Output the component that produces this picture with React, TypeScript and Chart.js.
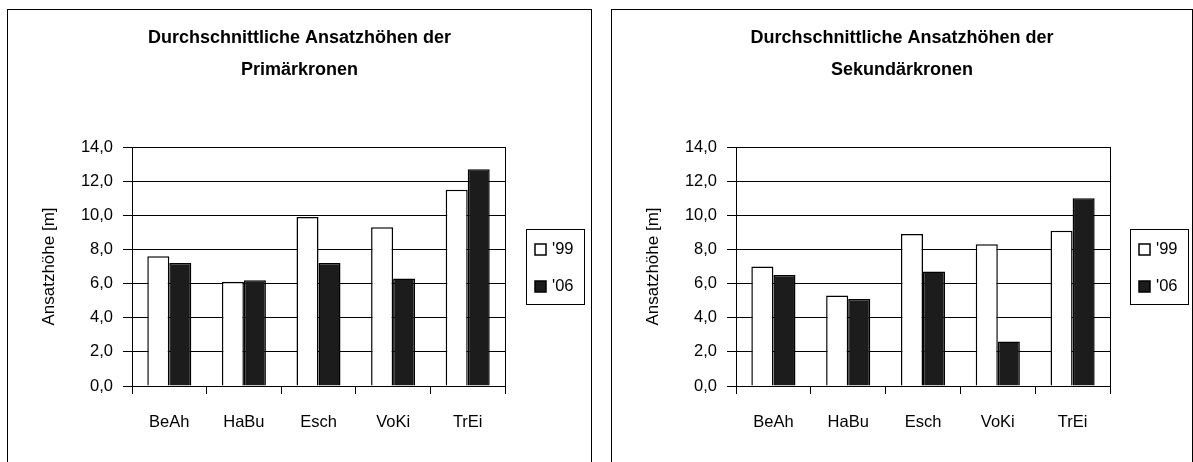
import React, { useEffect, useRef } from 'react';
import { Chart, registerables } from 'chart.js';

Chart.register(...registerables);

const FONT = "'Liberation Sans', Arial, Helvetica, sans-serif";

const categories = ['BeAh', 'HaBu', 'Esch', 'VoKi', 'TrEi'];
const seriesLabels = ["'99", "'06"];
const primary99 = [7.6, 6.1, 9.9, 9.3, 11.5];
const primary06 = [7.2, 6.2, 7.2, 6.3, 12.7];
const secondary99 = [7.0, 5.3, 8.9, 8.3, 9.1];
const secondary06 = [6.5, 5.1, 6.7, 2.6, 11.0];
const yMin = 0;
const yMax = 14;
const yStep = 2;
const titlePrimary = ['Durchschnittliche Ansatzhöhen der', 'Primärkronen'];
const titleSecondary = ['Durchschnittliche Ansatzhöhen der', 'Sekundärkronen'];
const yAxisTitle = 'Ansatzhöhe [m]';

const color99 = '#ffffff';
const color06 = '#1c1c1c';

const plotBorder = {
  id: 'plotBorder',
  beforeDatasetsDraw(chart: any) {
    const { ctx, chartArea } = chart;
    ctx.save();
    ctx.strokeStyle = '#000';
    ctx.lineWidth = 1;
    ctx.strokeRect(
      Math.round(chartArea.left) + 0.5,
      Math.round(chartArea.top) + 0.5,
      Math.round(chartArea.right - chartArea.left),
      Math.round(chartArea.bottom - chartArea.top)
    );
    ctx.restore();
  },
};

const boxLegend = {
  id: 'boxLegend',
  afterDraw(chart: any, _args: any, opts: any) {
    const { ctx, chartArea } = chart;
    const w = opts.width;
    const h = opts.height;
    const left = Math.round(chartArea.right + opts.gap);
    const top = Math.round((chartArea.top + chartArea.bottom) / 2 - h / 2);
    ctx.save();
    ctx.fillStyle = '#fff';
    ctx.fillRect(left, top, w, h);
    ctx.strokeStyle = '#000';
    ctx.lineWidth = 1;
    ctx.strokeRect(left + 0.5, top + 0.5, w, h);
    ctx.font = `${opts.fontSize}px ${FONT}`;
    ctx.textBaseline = 'middle';
    ctx.textAlign = 'left';
    chart.data.datasets.forEach((ds: any, i: number) => {
      const cy = top + opts.firstY + i * opts.rowGap;
      ctx.fillStyle = ds.backgroundColor;
      ctx.fillRect(left + 9, Math.round(cy - 5.5), 11, 11);
      ctx.strokeStyle = '#000';
      ctx.lineWidth = 1.5;
      ctx.strokeRect(left + 9, Math.round(cy - 5.5), 11, 11);
      ctx.fillStyle = '#000';
      ctx.fillText(ds.label, left + 26, cy);
    });
    ctx.restore();
  },
};

type PanelProps = {
  title: string[];
  values99: number[];
  values06: number[];
  left: number;
  width: number;
  padRight: number;
  legendGap: number;
};

function BarPanel({ title, values99, values06, left, width, padRight, legendGap }: PanelProps) {
  const ref = useRef<HTMLCanvasElement | null>(null);
  const canvasW = width - 2;
  const canvasH = 452;

  useEffect(() => {
    if (!ref.current) return;
    const chart = new Chart(ref.current, {
      type: 'bar',
      data: {
        labels: categories,
        datasets: [
          {
            label: seriesLabels[0],
            data: values99,
            backgroundColor: color99,
            borderColor: '#000',
            borderWidth: 1.5,
            categoryPercentage: 0.59,
            barPercentage: 1.0,
            yAxisID: 'y',
          },
          {
            label: seriesLabels[1],
            data: values06,
            backgroundColor: color06,
            borderColor: '#000',
            borderWidth: 1.5,
            categoryPercentage: 0.59,
            barPercentage: 1.0,
            yAxisID: 'y',
          },
        ],
      },
      options: {
        responsive: false,
        animation: false,
        devicePixelRatio: 1,
        layout: { padding: 0 },
        plugins: {
          legend: { display: false },
          tooltip: { enabled: false },
          title: {
            display: true,
            text: title,
            color: '#000',
            font: { family: FONT, size: 18, weight: 'bold', lineHeight: '32px' },
            padding: { top: 12, bottom: 61 },
          },
          boxLegend: { gap: legendGap, width: 58, height: 75, firstY: 20, rowGap: 37, fontSize: 16.5 },
        } as any,
        scales: {
          x: {
            grid: {
              display: true,
              drawOnChartArea: false,
              drawTicks: true,
              tickLength: 8,
              color: '#000',
              offset: true,
            },
            border: { display: true, color: '#000', width: 1 },
            ticks: { color: '#000', font: { family: FONT, size: 16.5 }, padding: 19 },
            afterFit: (s: any) => {
              s.height = 76;
            },
          },
          y: {
            min: yMin,
            max: yMax,
            ticks: {
              stepSize: yStep,
              padding: 10,
              color: '#000',
              font: { family: FONT, size: 16.5 },
              callback: (v: any) => Number(v).toFixed(1).replace('.', ','),
            },
            grid: { color: '#000', lineWidth: 1, drawTicks: true, tickLength: 9 },
            border: { display: true, color: '#000', width: 1 },
            title: {
              display: true,
              text: yAxisTitle,
              color: '#000',
              font: { family: FONT, size: 17, lineHeight: 1.2 },
              padding: { top: 31, bottom: 0 },
            },
            afterFit: (s: any) => {
              s.width = 124;
            },
          },
          legendSpace: {
            type: 'linear',
            position: 'right',
            display: true,
            min: yMin,
            max: yMax,
            grid: { display: false, drawTicks: false },
            border: { display: false },
            ticks: { display: false },
            afterFit: (s: any) => {
              s.width = padRight;
            },
          },
        },
      } as any,
      plugins: [plotBorder, boxLegend],
    });
    return () => chart.destroy();
  }, []);

  return (
    <div
      style={{
        position: 'absolute',
        left,
        top: 9,
        width,
        height: 470,
        border: '1px solid #000',
        boxSizing: 'border-box',
        background: '#fff',
      }}
    >
      <canvas
        ref={ref}
        width={canvasW}
        height={canvasH}
        style={{ display: 'block', width: canvasW, height: canvasH }}
      />
    </div>
  );
}

export default function App() {
  return (
    <div
      style={{
        position: 'fixed',
        left: 0,
        top: 0,
        width: 1193,
        height: 462,
        overflow: 'hidden',
        background: '#fff',
      }}
    >
      <BarPanel
        title={titlePrimary}
        values99={primary99}
        values06={primary06}
        left={7}
        width={585}
        padRight={86}
        legendGap={21}
      />
      <BarPanel
        title={titleSecondary}
        values99={secondary99}
        values06={secondary06}
        left={611}
        width={582}
        padRight={82}
        legendGap={20}
      />
    </div>
  );
}
